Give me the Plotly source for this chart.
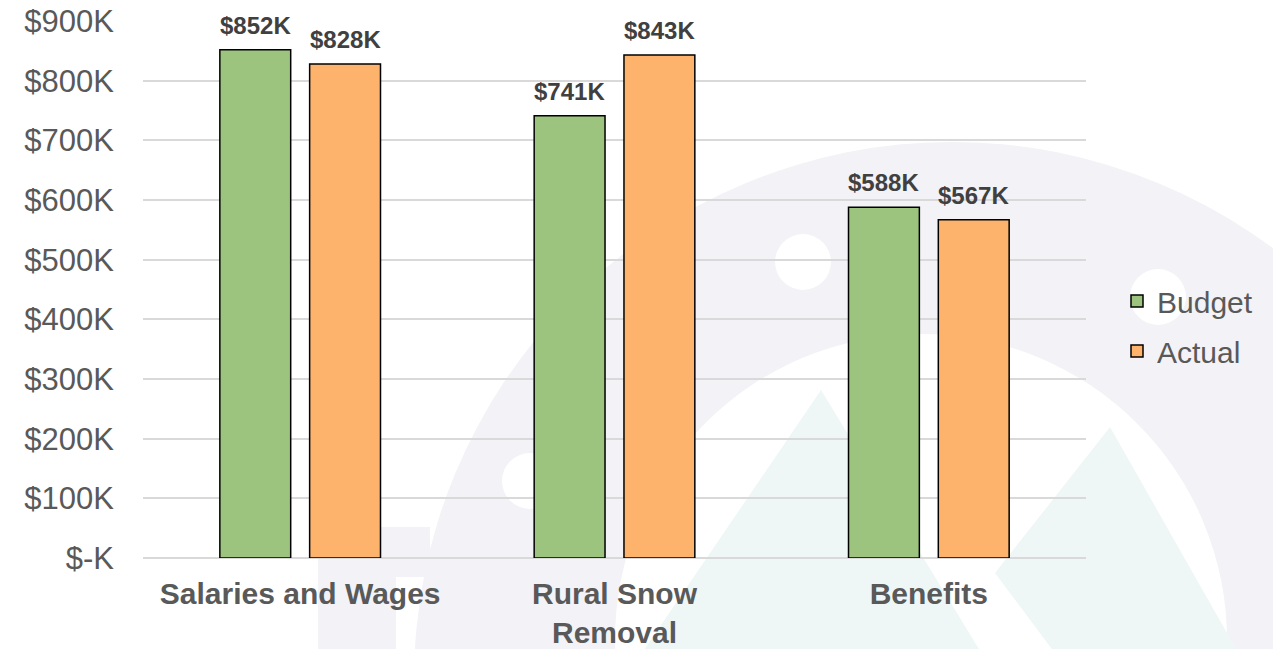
import plotly.graph_objects as go

# ---- data ----
categories = ["Salaries and Wages", "Rural Snow<br>Removal", "Benefits"]
budget = [852, 741, 588]          # $K
actual = [828, 843, 567]          # $K
series_names = ["Budget", "Actual"]
tick_vals = [0, 100, 200, 300, 400, 500, 600, 700, 800, 900]
tick_text = ["$-K", "$100K", "$200K", "$300K", "$400K", "$500K",
             "$600K", "$700K", "$800K", "$900K"]

# ---- style ----
W, H = 1273, 649
ML, MR, MT, MB = 143, 187, 21, 91
PW, PH = W - ML - MR, H - MT - MB
FONT = "Liberation Sans, Arial, sans-serif"
GREEN, ORANGE = "#9CC47E", "#FDB36C"

def px(x):
    return (x - ML) / PW

def py(y):
    return (H - MB - y) / PH

fig = go.Figure()
for name, vals, col in [(series_names[0], budget, GREEN), (series_names[1], actual, ORANGE)]:
    fig.add_trace(go.Bar(
        name=name, x=categories, y=vals, legendgroup=name,
        marker=dict(color=col, line=dict(color="#000000", width=1.5)),
        hoverinfo="skip",
    ))

# data labels
for vals, shift in [(budget, -45), (actual, 45)]:
    for c, v in zip(categories, vals):
        fig.add_annotation(x=c, y=v, text=f"<b>${v}K</b>", showarrow=False,
                           xshift=shift, yshift=9, yanchor="bottom",
                           font=dict(family=FONT, size=24, color="#404040"))

# ---- faint background watermark ----
GREY, TEAL, WHITE = "#F2F2F7", "#EEF7F6", "#FFFFFF"
shapes = []
def circ(cx, cy, r, col):
    shapes.append(dict(type="circle", xref="paper", yref="paper", layer="below",
                       x0=px(cx - r), x1=px(cx + r), y0=py(cy + r), y1=py(cy - r),
                       fillcolor=col, line=dict(width=0)))
def poly(pts, col):
    d = "M " + " L ".join(f"{px(a):.4f},{py(b):.4f}" for a, b in pts) + " Z"
    shapes.append(dict(type="path", xref="paper", yref="paper", layer="below",
                       path=d, fillcolor=col, line=dict(width=0)))
circ(952, 680, 538, GREY)
circ(921, 640, 306, WHITE)
circ(530, 481, 28, WHITE)
circ(803, 262, 28, WHITE)
circ(1158, 297, 28, WHITE)
poly([(821, 390), (610, 700), (1010, 700)], TEAL)
poly([(1110, 427), (995, 573), (1090, 700), (1265, 700)], TEAL)
poly([(318, 527), (430, 527), (430, 577), (396, 577), (396, 700), (318, 700)], GREY)

fig.update_layout(
    width=W, height=H,
    margin=dict(l=ML, r=MR, t=MT, b=MB, pad=0, autoexpand=False),
    paper_bgcolor="#FFFFFF", plot_bgcolor="rgba(0,0,0,0)",
    barmode="group", bargap=0.4286, bargroupgap=0.211,
    font=dict(family=FONT, color="#595959"),
    shapes=shapes,
    showlegend=True,
    legend=dict(x=px(1117), xanchor="left", y=py(326), yanchor="middle",
                traceorder="grouped", tracegroupgap=8,
                font=dict(family=FONT, size=30, color="#595959"),
                bgcolor="rgba(0,0,0,0)", borderwidth=0),
)
fig.update_xaxes(
    range=[-0.5, 2.5], showgrid=False, showline=False, zeroline=False,
    ticks="", tickfont=dict(family=FONT, size=30, color="#595959", weight="bold"),
    ticklabelstandoff=15, fixedrange=True, automargin=False,
)
fig.update_yaxes(
    range=[0, 900], tickvals=tick_vals, ticktext=tick_text,
    showgrid=True, gridcolor="#D9D9D9", gridwidth=1.5,
    zeroline=True, zerolinecolor="#D9D9D9", zerolinewidth=1.5,
    showline=False, ticks="", ticklabelstandoff=28,
    tickfont=dict(family=FONT, size=31, color="#595959"), fixedrange=True,
    automargin=False,
)

fig.write_html("out.html", config={"displayModeBar": False},
               post_script="document.body.style.margin='0';document.body.style.overflow='hidden';")
